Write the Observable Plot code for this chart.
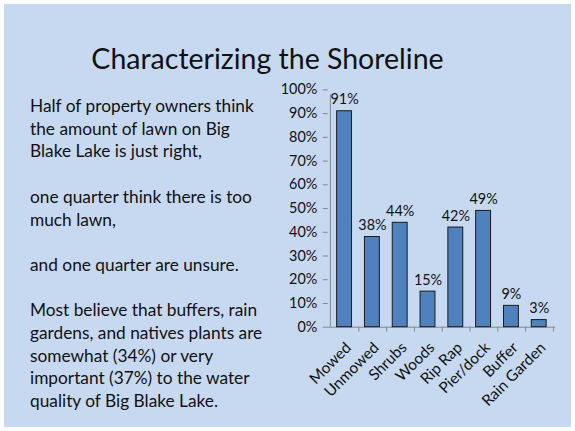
<!DOCTYPE html>
<html><head><meta charset="utf-8">
<script src="https://cdn.jsdelivr.net/npm/d3@7"></script>
<script src="https://cdn.jsdelivr.net/npm/@observablehq/plot@0.6"></script>
<style>
html,body{margin:0;padding:0;background:#fff;}
#slide{position:absolute;left:4px;top:4px;width:567px;height:423px;background:#C6D9F1;overflow:hidden;font-family:Lato,"Open Sans",sans-serif;color:#111;}
#title{position:absolute;left:0;top:37px;width:527px;text-align:center;font-size:28.5px;line-height:1.2;white-space:nowrap;}
#text{position:absolute;left:26px;top:91px;font-size:17.3px;line-height:22.7px;white-space:nowrap;}
#chart{position:absolute;left:-4px;top:-4px;}
#chart svg{background:transparent;overflow:visible;}
g[aria-label^="y-axis"] line, g[aria-label^="y-axis"] path{stroke:#868686;}
</style></head>
<body>
<div id="slide">
  <div id="title"></div>
  <div id="text"></div>
  <div id="chart"></div>
</div>
<script>
const titleText = "Characterizing the Shoreline";
const bodyLines = [
  "Half of property owners think",
  "the amount of lawn on Big",
  "Blake Lake is just right,",
  "",
  "one quarter think there is too",
  "much lawn,",
  "",
  "and one quarter are unsure.",
  "",
  "Most believe that buffers, rain",
  "gardens, and natives plants are",
  "somewhat (34%) or very",
  "important (37%) to the water",
  "quality of Big Blake Lake."
];
const categories = ["Mowed","Unmowed","Shrubs","Woods","Rip Rap","Pier/dock","Buffer","Rain Garden"];
const values = [0.91,0.38,0.44,0.15,0.42,0.49,0.09,0.03];
const valueLabels = ["91%","38%","44%","15%","42%","49%","9%","3%"];
const yTicks = [0,0.1,0.2,0.3,0.4,0.5,0.6,0.7,0.8,0.9,1.0];
const yTickLabels = ["0%","10%","20%","30%","40%","50%","60%","70%","80%","90%","100%"];

document.getElementById("title").textContent = titleText;
const textDiv = document.getElementById("text");
bodyLines.forEach(l => { const d = document.createElement("div"); d.textContent = l || "\u00a0"; textDiv.appendChild(d); });

const data = categories.map((c,i) => ({cat: c, value: values[i], label: valueLabels[i]}));
const W = 575, H = 431, mL = 330, mR = 16, mT = 90, mB = 102;
const step = (W - mL - mR) / categories.length;
const axisGray = "#868686";

const chart = Plot.plot({
  width: W, height: H,
  marginLeft: mL, marginRight: mR, marginTop: mT, marginBottom: mB,
  style: {fontFamily: "Lato, 'Open Sans', sans-serif", fontSize: "14.5px", color: "#111", background: "transparent"},
  x: {domain: categories, paddingInner: 0.48, paddingOuter: 0.24, label: null, axis: null},
  y: {domain: [0, 1], ticks: yTicks, tickFormat: (d) => yTickLabels[yTicks.indexOf(d)], tickSize: 5, tickPadding: 6, label: null},
  marks: [
    Plot.ruleY([0], {stroke: axisGray, strokeWidth: 1}),
    Plot.ruleX([categories[0]], {x: d => d, y1: 0, y2: 1, dx: -step/2, insetBottom: -5, stroke: axisGray}),
    Plot.ruleX(categories, {x: d => d, y1: 0, y2: 0, dx: step/2, insetBottom: -5, stroke: axisGray}),
    Plot.barY(data, {x: "cat", y: "value", fill: "#4F81BD", stroke: "#1a1a1a", strokeWidth: 1}),
    Plot.text(data, {x: "cat", y: "value", text: "label", dy: -7, lineAnchor: "bottom", fill: "#111", fontSize: 14.5}),
    Plot.axisX({tickRotate: -45, tickSize: 0, tickPadding: 18, dx: 4, fontSize: 15.5, label: null})
  ]
});
document.getElementById("chart").appendChild(chart);
</script>
</body></html>
